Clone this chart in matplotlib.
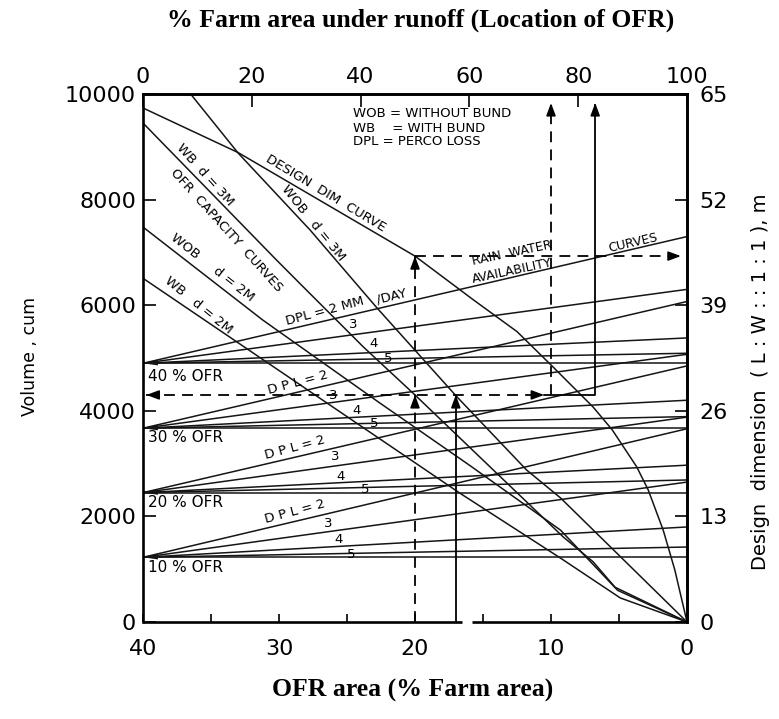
import matplotlib
matplotlib.use("Agg")
import matplotlib.pyplot as plt

plt.rcParams["font.family"] = ["DejaVu Sans"]

# ---- OFR capacity curves (x = OFR area, % of farm area; y = volume, cum) ----
wob3_x = [36.5, 33.0, 27.7, 22.8, 20.15, 16.9, 11.8, 9.3, 0]
wob3_y = [10000, 8880, 7420, 5950, 5190, 4260, 2880, 2350, 0]

wb3_x = [40, 30.2, 28.5, 23.8, 20.0, 9.1, 6.9, 5.3, 0]
wb3_y = [9450, 6860, 6420, 5210, 4300, 1610, 1140, 660, 0]

wob2_x = [40, 31.2, 22.6, 16.0, 9.3, 5.1, 0]
wob2_y = [7480, 5720, 4150, 2970, 1740, 600, 0]

wb2_x = [40, 16.7, 9.3, 4.9, 0]
wb2_y = [6510, 2440, 1210, 455, 0]

# ---- design dimension curve (volume scale; right axis gives metres) ----
design_x = [40, 33.0, 20.0, 15.7, 12.5, 9.85, 6.9, 5.5, 3.7, 2.85, 1.75, 0.9, 0]
design_y = [9735, 8890, 6930, 6100, 5500, 4830, 4070, 3640, 2940, 2500, 1740, 990, 0]

# ---- rain water availability curves ----
ofr_levels = [10, 20, 30, 40]
rain_start = [1225, 2450, 3670, 4900]          # volume at 40 % OFR area
dpl_values = [2, 3, 4, 5]                        # percolation loss, mm/day
rain_end_10 = [3660, 2650, 1800, 1420]          # volume at 0 % OFR area
rain_end_20 = [4850, 3880, 2970, 2690]
rain_end_30 = [6070, 5070, 4200, 3890]
rain_end_40 = [7300, 6300, 5380, 5090]
rain_ends = [rain_end_10, rain_end_20, rain_end_30, rain_end_40]

# ---- worked example ----
ex_ofr = 20.0          # OFR area chosen
ex_ofr_wob = 17.0      # OFR area giving the same volume without bund
ex_volume = 4300       # OFR capacity read on the volume axis
ex_design = 6930       # design dimension point on the curve
ex_loc_a = 10.0        # OFR area -> 75 % farm area under runoff
ex_loc_b = 6.75        # OFR area -> 83 % farm area under runoff

W, H = 779, 719
fig = plt.figure(figsize=(W / 100, H / 100), dpi=100)
ax = fig.add_axes([143 / W, 1 - 622 / H, 544 / W, 528 / H])
ax.set_xlim(40, 0)
ax.set_ylim(0, 10000)

LC = "#151515"
LW = 1.1

for xs, ys in [(wob3_x, wob3_y), (wb3_x, wb3_y), (wob2_x, wob2_y),
               (wb2_x, wb2_y), (design_x, design_y)]:
    ax.plot(xs, ys, color=LC, lw=LW, solid_joinstyle="round")

for start, ends in zip(rain_start, rain_ends):
    ax.plot([40, 0], [start, start], color=LC, lw=LW)
    for e in ends:
        ax.plot([40, 0], [start, e], color=LC, lw=LW)
    # small dark wedge where the curves meet the volume axis
    ax.fill([40, 38.9, 38.9], [start, start + 70, start - 40], color=LC, lw=0)

# ---- example construction lines ----
DASH = (0, (6, 4))
ALW = 1.3
ax.plot([ex_ofr, ex_ofr], [0, ex_design], color="k", lw=ALW, ls=DASH)
ax.plot([ex_ofr, 0.3], [ex_design, ex_design], color="k", lw=ALW, ls=DASH)
ax.plot([39.8, ex_loc_a], [ex_volume, ex_volume], color="k", lw=ALW, ls=DASH)
ax.plot([ex_loc_a, ex_loc_a], [ex_volume, 9800], color="k", lw=ALW, ls=DASH)
ax.plot([ex_ofr_wob, ex_ofr_wob], [0, ex_volume], color="k", lw=ALW)
ax.plot([ex_loc_a, ex_loc_b, ex_loc_b], [ex_volume, ex_volume, 9800], color="k", lw=ALW)


def head(x, y, dx, dy):
    ax.annotate("", xy=(x, y), xytext=(x - dx, y - dy),
                arrowprops=dict(arrowstyle="-|>,head_length=0.75,head_width=0.28",
                                color="k", lw=1.2, shrinkA=0, shrinkB=0))


head(ex_ofr, ex_volume, 0, 200)
head(ex_ofr, ex_design, 0, 200)
head(ex_ofr_wob, ex_volume, 0, 200)
head(ex_loc_a, 9830, 0, 200)
head(ex_loc_b, 9830, 0, 200)
head(0.45, ex_design, -0.8, 0)
head(39.75, ex_volume, 0.8, 0)
head(ex_loc_a + 0.5, ex_volume, -0.8, 0)

# ---- curve labels ----
lab = dict(color="k", ha="center", va="center", rotation_mode="anchor")
ax.text(35.45, 8470, "WB  d = 3M", fontsize=9.5, rotation=-48, **lab)
ax.text(33.9, 7420, "OFR  CAPACITY  CURVES", fontsize=9.5, rotation=-48, **lab)
ax.text(27.5, 7560, "WOB   d = 3M", fontsize=9.5, rotation=-51, **lab)
ax.text(26.6, 8125, "DESIGN  DIM  CURVE", fontsize=9.5, rotation=-31, **lab)
ax.text(34.9, 6720, "WOB     d = 2M", fontsize=9.5, rotation=-38, **lab)
ax.text(35.9, 6000, "WB   d = 2M", fontsize=9.5, rotation=-39, **lab)

ax.text(24.56, 9622, "WOB = WITHOUT BUND", fontsize=9.5, ha="left", va="center")
ax.text(24.56, 9356, "WB    = WITH BUND", fontsize=9.5, ha="left", va="center")
ax.text(24.56, 9091, "DPL = PERCO LOSS", fontsize=9.5, ha="left", va="center")

ax.text(12.87, 6989, "RAIN  WATER", fontsize=9, rotation=12, **lab)
ax.text(12.87, 6639, "AVAILABILITY", fontsize=9, rotation=12, **lab)
ax.text(3.97, 7178, "CURVES", fontsize=9, rotation=13, **lab)

# DPL labels for each OFR level: (x, y) of "DPL = 2", then "3", "4", "5"
dpl_label_pos = {
    40: [(26.62, 5890), (24.54, 5625), (23.06, 5279), (21.96, 4995)],
    30: [(28.6, 4527), (26.0, 4299), (24.29, 4015), (22.99, 3763)],
    20: [(28.82, 3305), (25.88, 3131), (25.51, 2765), (23.68, 2513)],
    10: [(28.82, 2083), (26.37, 1869), (25.64, 1566), (24.66, 1282)],
}
ofr_label_y = {40: 4650, 30: 3485, 20: 2254, 10: 1023}
for lvl in ofr_levels:
    pos = dpl_label_pos[lvl]
    first = "DPL = 2 MM" if lvl == 40 else "D P L = 2"
    ax.text(pos[0][0], pos[0][1], first, fontsize=9.5, rotation=15, **lab)
    for (px, py), d in zip(pos[1:], dpl_values[1:]):
        ax.text(px, py, str(d), fontsize=9.5, **lab)
    ax.text(39.6, ofr_label_y[lvl], f"{lvl} % OFR", fontsize=11, ha="left", va="center")
ax.text(21.69, 6174, "/DAY", fontsize=9.5, rotation=14, **lab)

# ---- axes, ticks ----
for side in ["left", "right", "top"]:
    ax.spines[side].set_linewidth(1.9)
ax.spines["bottom"].set_visible(False)
for xa, xb in [(40, 16.55), (15.8, 0)]:
    ax.plot([xa, xb], [0, 0], color="k", lw=1.9, clip_on=False, solid_capstyle="butt")

TS = 16
ax.set_xticks([40, 30, 20, 10, 0])
ax.set_xticklabels(["40", "30", "20", "10", "0"])
ax.set_xticks([35, 25, 15, 5], minor=True)
ax.tick_params(axis="x", which="both", direction="in", length=6, width=1.2,
               labelsize=TS, pad=12)
ax.set_yticks([0, 2000, 4000, 6000, 8000, 10000])
ax.tick_params(axis="y", direction="in", length=9, width=1.2, labelsize=TS, pad=5)

top = ax.secondary_xaxis("top", functions=(lambda x: 100 - 2.5 * x,
                                           lambda t: (100 - t) / 2.5))
top.set_xticks([0, 20, 40, 60, 80, 100])
top.tick_params(direction="in", length=9, width=1.2, labelsize=TS, pad=5)
top.spines["top"].set_linewidth(1.9)

right = ax.secondary_yaxis("right", functions=(lambda v: v * 0.0065,
                                               lambda m: m / 0.0065))
right.set_yticks([0, 13, 26, 39, 52, 65])
right.tick_params(direction="in", length=9, width=1.2, labelsize=TS, pad=9)
right.spines["right"].set_linewidth(1.9)

fig.text(30 / W, 1 - 356 / H, "Volume , cum", rotation=90, fontsize=12.5,
         ha="center", va="center")
fig.text(761 / W, 1 - 382 / H, "Design  dimension  ( L : W : : 1 : 1 ), m", rotation=90,
         fontsize=14, ha="center", va="center")
fig.text(421 / W, 1 - 20 / H, "% Farm area under runoff (Location of OFR)",
         family="Liberation Serif", fontweight="bold", fontsize=18.5,
         ha="center", va="center")
fig.text(413 / W, 1 - 690 / H, "OFR area (% Farm area)",
         family="Liberation Serif", fontweight="bold", fontsize=18.5,
         ha="center", va="center")

fig.savefig("out.png", dpi=100, facecolor="white")
